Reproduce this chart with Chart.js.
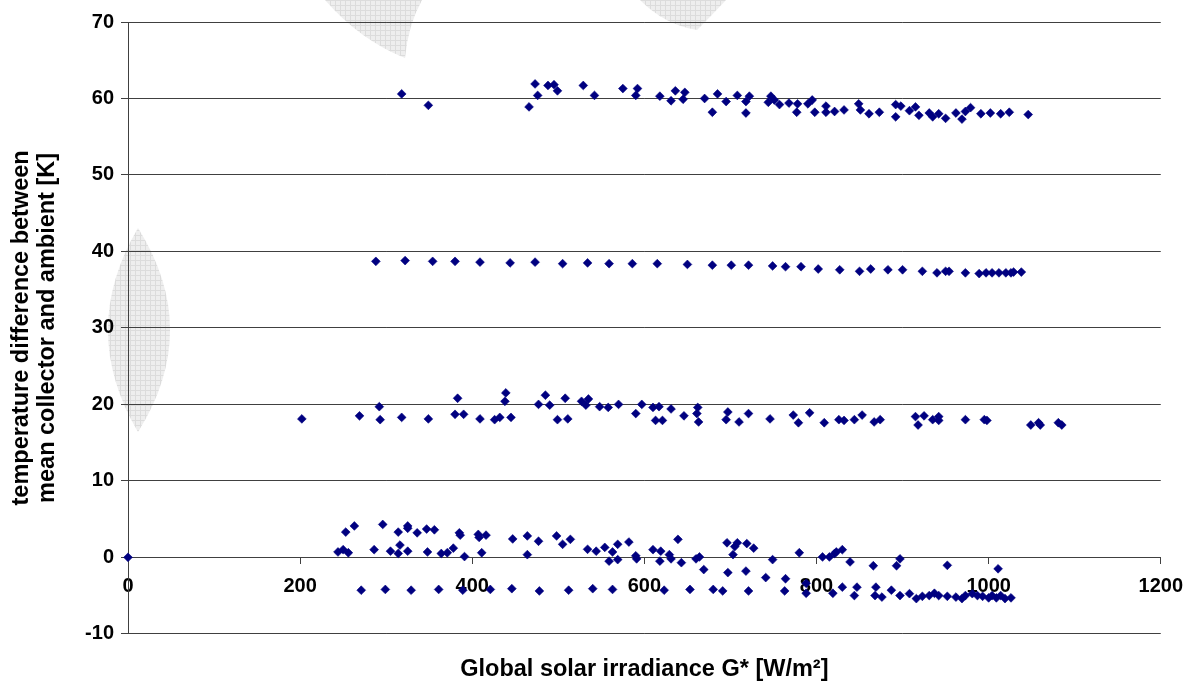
<!DOCTYPE html>
<html>
<head>
<meta charset="utf-8">
<script src="https://cdn.jsdelivr.net/npm/chart.js@4.4.0/dist/chart.umd.min.js"></script>
<style>
html,body{margin:0;padding:0;background:#fff;}
#wrap{width:1194px;height:685px;position:relative;}
</style>
</head>
<body>
<div id="wrap"><canvas id="c" width="1194" height="685"></canvas></div>
<script>
// ---- data ----
const xTickValues = [0, 200, 400, 600, 800, 1000, 1200];
const yTickValues = [-10, 0, 10, 20, 30, 40, 50, 60, 70];

const irradiance60 = [318,349,466,473,476,488,495,499,529,542,575,590,592,618,631,636,645,647,670,679,685,695,708,718,718,722,744,747,751,757,768,777,778,790,795,798,811,811,821,832,849,851,861,873,892,892,898,908,915,919,931,935,942,950,962,969,973,979,991,1002,1014,1024,1046];
const deltaT60 = [60.6,59.1,58.9,61.9,60.4,61.7,61.8,61.0,61.7,60.4,61.3,60.4,61.3,60.3,59.7,61.0,59.9,60.8,60.0,58.2,60.6,59.6,60.4,59.6,58.1,60.3,59.5,60.3,59.8,59.2,59.4,58.2,59.3,59.3,59.8,58.2,59.0,58.2,58.3,58.5,59.3,58.5,58.0,58.2,59.2,57.6,59.0,58.4,58.9,57.8,58.1,57.6,58.0,57.4,58.1,57.3,58.3,58.8,58.0,58.1,58.0,58.2,57.9];

const irradiance40 = [288,322,354,380,409,444,473,505,534,559,586,615,650,679,701,721,749,764,782,802,827,850,863,883,900,923,940,950,954,973,989,997,1004,1012,1020,1026,1029,1038];
const deltaT40 = [38.7,38.8,38.7,38.7,38.6,38.5,38.6,38.4,38.5,38.4,38.4,38.4,38.3,38.2,38.2,38.2,38.1,38.0,38.0,37.7,37.6,37.4,37.7,37.6,37.6,37.4,37.2,37.4,37.4,37.2,37.1,37.2,37.2,37.2,37.2,37.2,37.3,37.3];

const irradiance20 = [202,269,292,293,318,349,383,380,390,409,426,432,439,438,445,477,485,490,499,511,508,527,535,532,548,558,570,590,597,610,617,631,613,621,646,662,661,663,697,695,710,721,746,773,779,792,809,826,832,844,853,867,874,915,918,925,935,942,942,973,995,998,1049,1058,1060,1081,1085];
const deltaT20 = [18.1,18.5,19.7,18.0,18.3,18.1,20.8,18.7,18.7,18.1,18.0,18.3,21.5,20.4,18.3,20.0,21.2,19.9,18.0,18.1,20.8,20.4,20.7,19.9,19.7,19.6,20.0,18.8,20.0,19.6,19.7,19.4,17.9,17.9,18.5,19.6,18.8,17.7,19.0,18.0,17.7,18.8,18.1,18.6,17.6,18.9,17.6,18.0,17.9,18.0,18.6,17.7,18.0,18.4,17.3,18.5,18.0,18.4,17.9,18.0,18.0,17.9,17.3,17.6,17.3,17.6,17.3];

const irradianceLow = [253,263,296,314,325,325,336,347,356,385,386,407,408,416,447,464,
  244,250,256,286,305,316,314,325,348,364,371,378,391,411,464,
  271,299,329,361,389,421,446,
  477,498,505,514,534,544,554,563,569,559,569,582,590,591,610,619,618,629,631,639,643,660,664,669,696,708,705,703,719,727,697,718,741,749,764,780,807,
  478,512,540,563,623,653,680,691,721,763,788,788,
  815,821,823,830,839,866,893,897,952,1011,
  819,830,844,847,869,868,876,887,897,908,916,923,931,937,942,952,962,969,973,981,987,993,1000,1004,1009,1014,1019,1026];
const deltaTLow = [3.3,4.1,4.3,3.3,4.1,3.8,3.2,3.7,3.6,3.2,2.9,3.0,2.6,2.9,2.4,2.8,
  0.7,1.0,0.6,1.0,0.8,1.6,0.5,0.8,0.7,0.5,0.6,1.2,0.1,0.6,0.35,
  -4.3,-4.2,-4.3,-4.2,-4.3,-4.2,-4.1,
  2.1,2.8,1.7,2.35,1.05,0.8,1.3,0.7,1.7,-0.5,-0.3,2.0,0.2,-0.2,1.0,0.8,-0.5,0.35,-0.2,2.35,-0.7,-0.2,0.05,-1.6,1.9,1.9,1.4,0.35,1.8,1.2,-2.0,-1.8,-2.65,-0.3,-2.8,0.6,0.05,
  -4.4,-4.3,-4.1,-4.2,-4.3,-4.2,-4.2,-4.4,-4.4,-4.4,-3.4,-4.7,
  0.05,0.5,0.7,1.0,-0.6,-1.1,-1.1,-0.2,-1.05,-1.5,
  -4.7,-3.9,-5.0,-3.9,-3.9,-5.0,-5.2,-4.3,-5.0,-4.75,-5.4,-5.1,-5.0,-4.7,-5.0,-5.1,-5.2,-5.4,-5.0,-4.75,-5.0,-5.1,-5.3,-5.0,-5.3,-5.0,-5.4,-5.3];

const irradianceOrigin = [0];
const deltaTOrigin = [0];

const xTitle = 'Global solar irradiance G* [W/m²]';
const yTitle = ['temperature difference between', 'mean collector and ambient [K]'];

// ---- styling ----
const FONT = "'Liberation Sans', Arial, Helvetica, sans-serif";
const LINE = '#404040';
const MARK = '#000080';

const series = [
  [irradiance60, deltaT60],
  [irradiance40, deltaT40],
  [irradiance20, deltaT20],
  [irradianceLow, deltaTLow],
  [irradianceOrigin, deltaTOrigin]
];

const datasets = series.map(([xs, ys]) => ({
  data: xs.map((v, i) => ({x: v, y: ys[i]})),
  showLine: false,
  pointStyle: 'rectRot',
  pointRadius: 4.4,
  pointHoverRadius: 4.4,
  pointBackgroundColor: MARK,
  pointBorderColor: MARK,
  pointBorderWidth: 0.6,
  clip: false
}));

// faint background watermark (decoration only)
const watermark = {
  id: 'watermark',
  beforeDraw(chart) {
    const ctx = chart.ctx;
    ctx.save();
    ctx.fillStyle = '#ffffff';
    ctx.fillRect(0, 0, chart.width, chart.height);
    const pc = document.createElement('canvas');
    pc.width = 5; pc.height = 5;
    const p = pc.getContext('2d');
    p.fillStyle = '#eeeeee'; p.fillRect(0, 0, 5, 5);
    p.fillStyle = '#dcdcdc'; p.fillRect(0, 0, 5, 1); p.fillRect(0, 0, 1, 5);
    ctx.fillStyle = ctx.createPattern(pc, 'repeat');
    ctx.beginPath();
    ctx.moveTo(138, 228);
    ctx.quadraticCurveTo(78, 330, 138, 432);
    ctx.quadraticCurveTo(202, 330, 138, 228);
    ctx.fill();
    ctx.beginPath();
    ctx.moveTo(325, 0);
    ctx.quadraticCurveTo(360, 40, 405, 58);
    ctx.quadraticCurveTo(408, 25, 422, 0);
    ctx.closePath();
    ctx.fill();
    ctx.beginPath();
    ctx.moveTo(640, 0);
    ctx.quadraticCurveTo(665, 25, 697, 30);
    ctx.quadraticCurveTo(712, 15, 726, 0);
    ctx.closePath();
    ctx.fill();
    ctx.restore();
  }
};

new Chart(document.getElementById('c').getContext('2d'), {
  type: 'scatter',
  data: {datasets},
  options: {
    responsive: false,
    animation: false,
    devicePixelRatio: 1,
    events: [],
    layout: {padding: {left: 0, right: 32, top: 22, bottom: 0}},
    plugins: {
      legend: {display: false},
      tooltip: {enabled: false},
      title: {
        display: true,
        position: 'bottom',
        fullSize: false,
        text: xTitle,
        color: '#000',
        font: {family: FONT, size: 23.5, weight: 'bold', lineHeight: 1.2},
        padding: {top: 22, bottom: 1}
      }
    },
    scales: {
      x: {
        type: 'linear',
        position: {y: 0},
        min: 0,
        max: 1200,
        afterBuildTicks: s => { s.ticks = xTickValues.map(v => ({value: v})); },
        ticks: {
          color: '#000',
          font: {family: FONT, size: 20, weight: 'bold'},
          padding: 11,
          maxRotation: 0,
          autoSkip: false,
          callback: v => String(v)
        },
        grid: {drawOnChartArea: false, drawTicks: true, tickLength: 6, color: LINE, lineWidth: 1},
        border: {display: true, color: LINE, width: 1}
      },
      y: {
        type: 'linear',
        position: 'left',
        min: -10,
        max: 70,
        afterBuildTicks: s => { s.ticks = yTickValues.map(v => ({value: v})); },
        afterFit: s => { s.width = 128; },
        ticks: {
          color: '#000',
          font: {family: FONT, size: 20, weight: 'bold'},
          padding: 7,
          callback: v => String(v)
        },
        grid: {color: LINE, lineWidth: 1, drawTicks: true, tickLength: 7},
        border: {display: true, color: LINE, width: 1},
        title: {
          display: true,
          text: yTitle,
          color: '#000',
          font: {family: FONT, size: 23.5, weight: 'bold', lineHeight: 1.08},
          padding: {top: 9, bottom: 0}
        }
      }
    }
  },
  plugins: [watermark]
});
</script>
</body>
</html>
